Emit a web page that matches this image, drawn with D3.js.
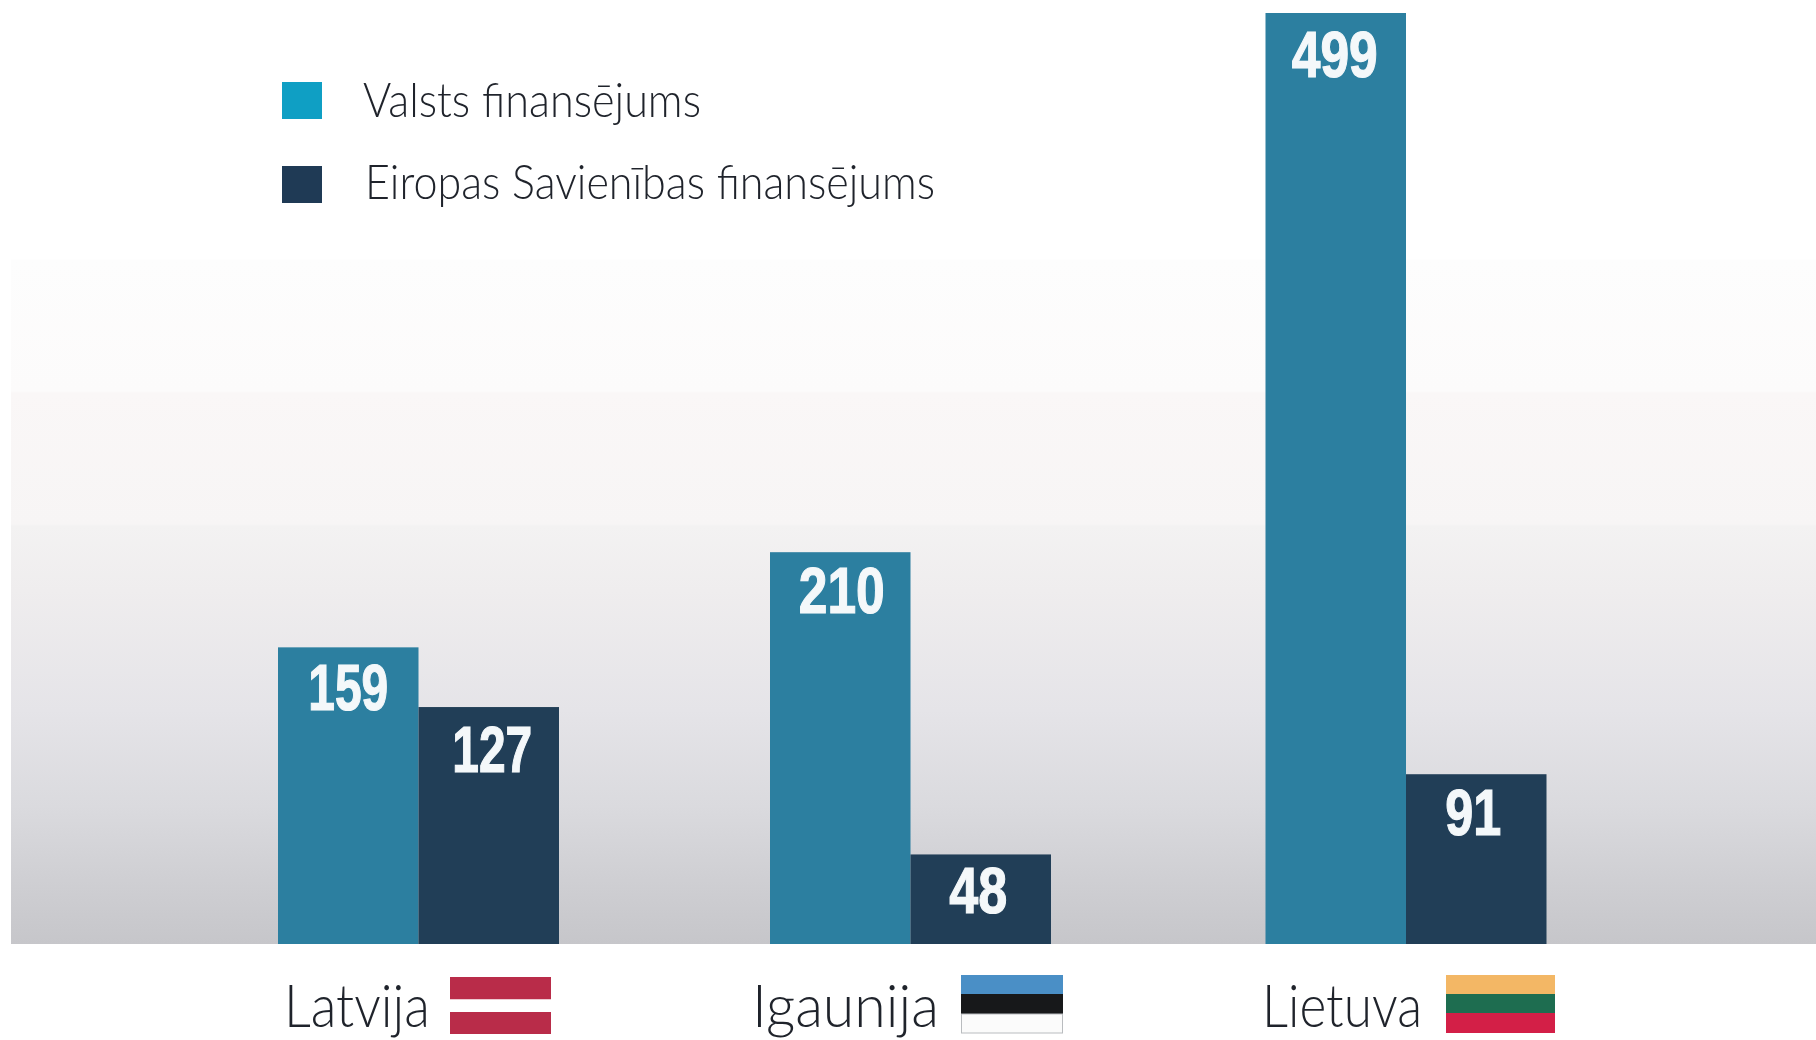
<!DOCTYPE html>
<html lang="lv">
<head>
<meta charset="utf-8">
<script src="https://cdn.jsdelivr.net/npm/d3@7/dist/d3.min.js"></script>
<style>
html,body{margin:0;padding:0;background:#fff;overflow:hidden}
svg{display:block;filter:blur(0.5px)}
.num{font-family:"Liberation Sans",sans-serif;font-weight:700;fill:#f4f8fa;stroke:#f4f8fa;stroke-width:1.2px}
.lab{font-family:Lato,"Liberation Sans",sans-serif;font-weight:300;fill:#1f232b}
</style>
</head>
<body>
<svg id="c" width="1816" height="1040"></svg>
<script>
const categories = ["Latvija", "Igaunija", "Lietuva"];
const seriesNames = ["Valsts finansējums", "Eiropas Savienības finansējums"];
const stateFunding = [159, 210, 499];
const euFunding = [127, 48, 91];
const flagStripes = [
  ["#b92c49", "#ffffff", "#b92c49"],
  ["#4a8fc6", "#17181a", "#fbfbfb"],
  ["#f3b765", "#1e6d50", "#d31f47"]
];

const barColors = ["#2c7fa0", "#213e57"];
const legendColors = ["#0f9fc4", "#1f3a55"];

const svg = d3.select("#c");
const y = d3.scaleLinear().domain([0, 499]).range([944, 13]);
const x0 = d3.scaleOrdinal().domain(categories).range([278, 770, 1265.5]);
const x1 = d3.scaleBand().domain([0, 1]).range([0, 281]);

// background
const defs = svg.append("defs");
const grad = defs.append("linearGradient").attr("id", "bg").attr("gradientUnits", "userSpaceOnUse")
  .attr("x1", 0).attr("x2", 0).attr("y1", 0).attr("y2", 944);
[[0,"#ffffff"],[259,"#ffffff"],[260,"#fdfdfd"],[391,"#fcfbfb"],[393,"#faf7f7"],[524,"#f7f5f5"],[526,"#f3f2f2"],
 [590,"#efedee"],[710,"#e5e4e8"],[807,"#dadade"],[880,"#cfcfd3"],[944,"#c6c6ca"]]
  .forEach(s => grad.append("stop").attr("offset", s[0] / 944).attr("stop-color", s[1]));
svg.append("rect").attr("x", 11).attr("y", 0).attr("width", 1805).attr("height", 944).attr("fill", "url(#bg)");

// bars
const labelDx = [[0, 3.5], [1.5, -2.5], [-1, -3]];
const labelBase = [[63, 65], [61, 59], [64, 61]];
const labelW = [[80, 80], [86, 58], [86, 56]];
const rows = categories.map((c, i) => ({c, i, v: [stateFunding[i], euFunding[i]]}));
const groups = svg.selectAll("g.grp").data(rows).join("g").attr("class", "grp")
  .attr("transform", d => `translate(${x0(d.c)},0)`);
const cells = groups.selectAll("g.cell").data(d => d.v.map((v, k) => ({v, k, i: d.i}))).join("g").attr("class", "cell");
cells.append("rect")
  .attr("x", d => x1(d.k)).attr("width", x1.bandwidth())
  .attr("y", d => y(d.v)).attr("height", d => y(0) - y(d.v))
  .attr("fill", d => barColors[d.k]);
cells.append("text").attr("class", "num")
  .attr("x", d => x1(d.k) + x1.bandwidth() / 2 + labelDx[d.i][d.k])
  .attr("y", d => y(d.v) + labelBase[d.i][d.k])
  .attr("text-anchor", "middle")
  .attr("font-size", 64)
  .attr("textLength", d => labelW[d.i][d.k])
  .attr("lengthAdjust", "spacingAndGlyphs")
  .text(d => d.v);

// category labels and flags
const labelLeft = [284, 752, 1262], labelWidth = [146, 187, 160];
const flagLeft = [450, 961, 1446], flagWidth = [101, 102, 109];
const flagBands = [[977, 999.5, 1012, 1034], [975, 994, 1014, 1033], [975, 994, 1013, 1033]];
categories.forEach((c, i) => {
  svg.append("text").attr("class", "lab").attr("x", labelLeft[i]).attr("y", 1027)
    .attr("font-size", 60).attr("textLength", labelWidth[i]).attr("lengthAdjust", "spacingAndGlyphs").text(c);
  const f = flagBands[i];
  flagStripes[i].forEach((col, k) => {
    svg.append("rect").attr("x", flagLeft[i]).attr("width", flagWidth[i])
      .attr("y", f[k]).attr("height", f[k + 1] - f[k]).attr("fill", col);
  });
  if (i === 1) svg.append("rect").attr("x", flagLeft[i] + .5).attr("y", f[2]).attr("width", flagWidth[i] - 1).attr("height", f[3] - f[2])
    .attr("fill", "none").attr("stroke", "#b9bcbf");
});

// legend
const legendY = [82, 166], legendBase = [117, 199], legendTextX = [363, 365], legendTextW = [338, 570];
seriesNames.forEach((s, i) => {
  svg.append("rect").attr("x", 282).attr("y", legendY[i]).attr("width", 40).attr("height", 37).attr("fill", legendColors[i]);
  svg.append("text").attr("class", "lab").attr("x", legendTextX[i]).attr("y", legendBase[i])
    .attr("font-size", 48).attr("textLength", legendTextW[i]).attr("lengthAdjust", "spacingAndGlyphs").text(s);
});
</script>
</body>
</html>
